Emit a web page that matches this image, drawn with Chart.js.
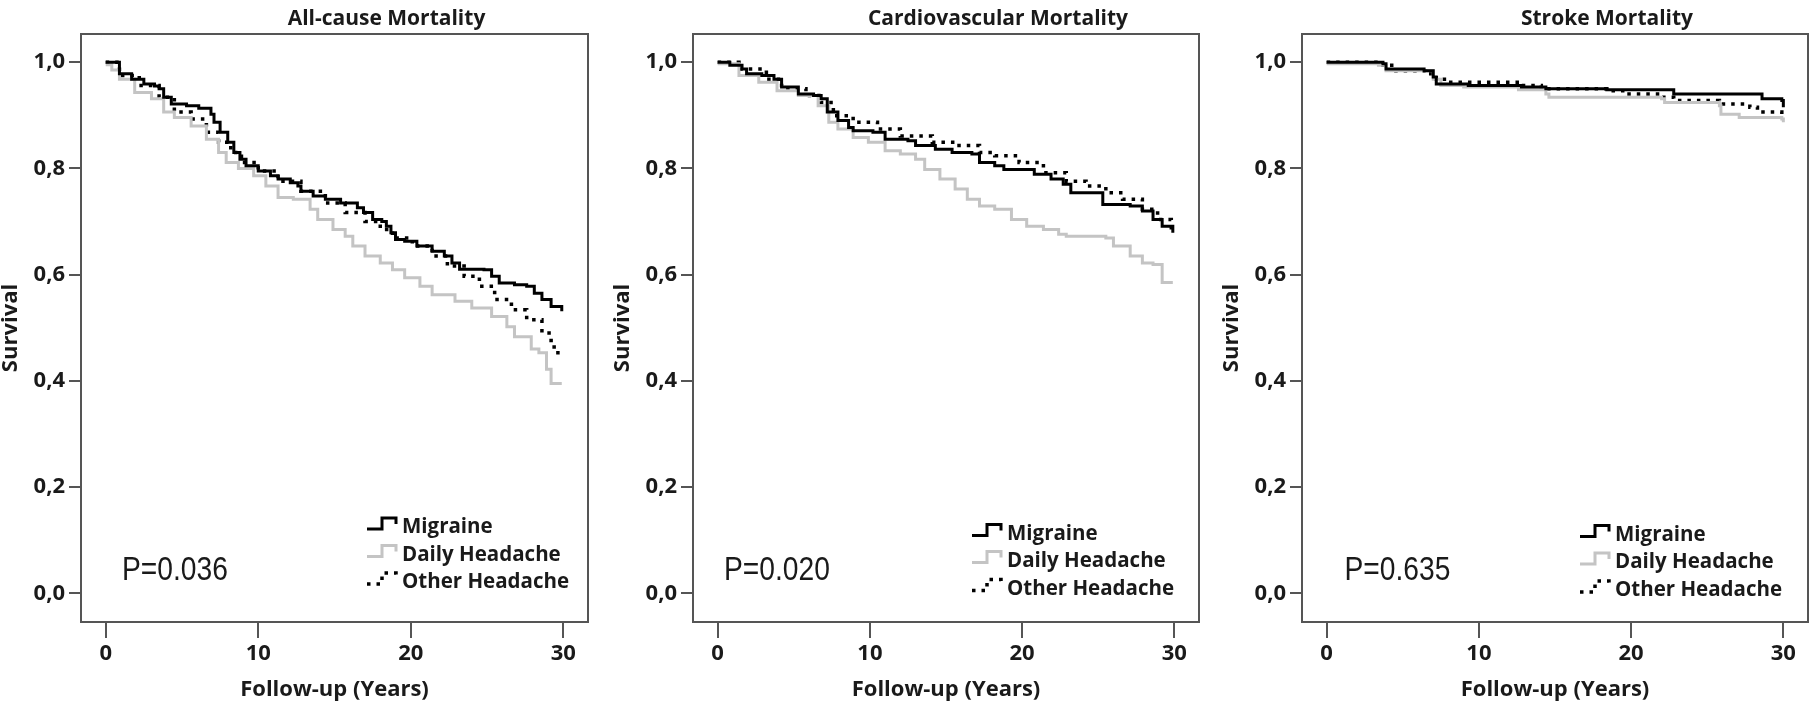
<!DOCTYPE html>
<html><head><meta charset="utf-8">
<script src="https://cdn.jsdelivr.net/npm/chart.js@4.4.1/dist/chart.umd.min.js"></script>
<style>
html,body{margin:0;padding:0;background:#fff;}
#wrap{position:relative;width:1809px;height:707px;overflow:hidden;background:#fff;}
canvas{position:absolute;top:0;}
</style></head><body>
<div id="wrap">
<canvas id="c0" width="600" height="707" style="left:0px"></canvas>
<canvas id="c1" width="592" height="707" style="left:612px"></canvas>
<canvas id="c2" width="588" height="707" style="left:1221px"></canvas>
</div>
<script>
// ---- text / categories ----
const panelTitles = ['All-cause Mortality', 'Cardiovascular Mortality', 'Stroke Mortality'];
const pValues = ['P=0.036', 'P=0.020', 'P=0.635'];
const seriesNames = ['Migraine', 'Daily Headache', 'Other Headache'];
const xTickValues = [0, 10, 20, 30];
const yTickValues = [0, 0.2, 0.4, 0.6, 0.8, 1.0];
const yTickLabels = ['0,0', '0,2', '0,4', '0,6', '0,8', '1,0'];
const yAxisTitle = 'Survival';
const xAxisTitle = 'Follow-up (Years)';

// ---- series values: [years, survival] ----
const allMigraine = [[0,1.0],[0.9,0.978],[1.7,0.968],[2.5,0.959],[3.2,0.955],[3.5,0.95],[3.8,0.934],[4.3,0.921],[5.3,0.918],[6.1,0.913],[6.9,0.902],[7.1,0.887],[7.5,0.868],[8.0,0.849],[8.4,0.83],[8.8,0.817],[9.2,0.805],[10.0,0.795],[10.8,0.786],[11.3,0.78],[12.1,0.773],[12.6,0.767],[12.8,0.757],[13.6,0.748],[14.4,0.742],[15.4,0.735],[16.5,0.726],[16.9,0.717],[17.5,0.704],[18.1,0.70],[18.4,0.691],[18.7,0.679],[19.0,0.666],[19.6,0.663],[20.4,0.654],[21.4,0.644],[22.2,0.635],[22.7,0.622],[23.2,0.61],[24.8,0.609],[25.3,0.597],[25.8,0.584],[26.8,0.581],[27.6,0.578],[28.1,0.565],[28.6,0.553],[29.2,0.54],[29.9,0.531]];
const allDaily = [[0,0.995],[0.4,0.985],[0.9,0.968],[1.9,0.943],[3.0,0.931],[3.8,0.906],[4.5,0.896],[5.6,0.88],[6.6,0.855],[7.4,0.83],[7.9,0.811],[8.7,0.80],[9.7,0.786],[10.5,0.767],[11.3,0.745],[12.3,0.742],[13.4,0.723],[13.9,0.704],[14.9,0.685],[15.7,0.672],[16.2,0.654],[17.0,0.635],[18.0,0.622],[18.8,0.609],[19.6,0.594],[20.6,0.578],[21.4,0.562],[22.9,0.55],[24.0,0.537],[25.3,0.521],[26.3,0.502],[26.8,0.483],[27.9,0.46],[28.4,0.453],[28.9,0.422],[29.2,0.395],[29.9,0.395]];
const allOther = [[0,1.0],[0.9,0.975],[2.2,0.956],[3.5,0.934],[4.5,0.906],[5.6,0.893],[6.6,0.868],[7.4,0.849],[8.2,0.83],[8.9,0.811],[10.0,0.795],[11.3,0.776],[12.8,0.757],[14.4,0.735],[15.7,0.717],[17.0,0.70],[18.0,0.685],[18.8,0.669],[20.1,0.654],[21.4,0.635],[22.4,0.616],[23.5,0.597],[24.5,0.578],[25.5,0.553],[26.6,0.534],[27.6,0.515],[28.6,0.49],[29.2,0.476],[29.4,0.453],[29.8,0.447]];

const cvMigraine = [[0,1.0],[0.8,0.994],[1.6,0.987],[1.9,0.978],[2.9,0.975],[3.7,0.968],[4.2,0.953],[5.3,0.94],[6.3,0.937],[6.8,0.931],[7.2,0.906],[7.9,0.89],[8.6,0.877],[8.9,0.871],[10.2,0.868],[11.0,0.855],[12.5,0.852],[13.0,0.843],[14.3,0.836],[15.4,0.83],[16.7,0.827],[17.2,0.811],[18.2,0.805],[18.8,0.798],[20.6,0.798],[20.8,0.789],[21.9,0.78],[22.7,0.77],[23.2,0.754],[24.7,0.754],[25.3,0.732],[27.1,0.729],[27.9,0.72],[28.6,0.704],[29.2,0.691],[29.9,0.679]];
const cvDaily = [[0,0.997],[1.4,0.975],[2.7,0.962],[3.9,0.946],[5.3,0.937],[6.6,0.918],[7.3,0.887],[7.9,0.874],[8.9,0.858],[9.9,0.849],[11.0,0.833],[12.0,0.827],[13.0,0.817],[13.6,0.798],[14.6,0.78],[15.6,0.761],[16.4,0.742],[17.2,0.729],[18.2,0.723],[19.3,0.704],[20.3,0.691],[21.4,0.685],[22.4,0.676],[22.9,0.672],[25.5,0.669],[26.0,0.654],[27.1,0.635],[27.9,0.622],[28.6,0.619],[29.2,0.585],[29.9,0.585]];
const cvOther = [[0,1.0],[1.4,0.987],[3.2,0.968],[4.2,0.95],[5.8,0.937],[6.8,0.924],[7.6,0.899],[8.9,0.887],[10.5,0.874],[12.0,0.861],[14.1,0.849],[15.6,0.843],[17.2,0.83],[18.2,0.824],[19.8,0.811],[21.4,0.792],[22.9,0.776],[24.2,0.767],[25.5,0.754],[26.6,0.742],[27.9,0.723],[28.9,0.704],[29.8,0.682]];

const strokeMigraine = [[0,1.0],[3.7,0.997],[3.9,0.987],[6.4,0.984],[7.0,0.972],[7.2,0.959],[9.3,0.956],[12.8,0.953],[14.4,0.95],[18.4,0.948],[22.6,0.948],[22.8,0.94],[28.5,0.94],[28.6,0.931],[29.9,0.928],[30.0,0.915]];
const strokeDaily = [[0,0.997],[3.4,0.994],[3.9,0.984],[7.0,0.968],[7.5,0.956],[9.0,0.953],[12.6,0.948],[14.4,0.94],[14.6,0.934],[22.0,0.931],[22.2,0.924],[25.8,0.918],[25.9,0.902],[27.1,0.896],[29.9,0.893],[30.0,0.887]];
const strokeOther = [[0,1.0],[3.7,0.994],[4.4,0.984],[6.5,0.978],[7.2,0.968],[8.0,0.962],[12.8,0.956],[14.1,0.95],[18.4,0.946],[19.7,0.94],[22.0,0.934],[22.8,0.928],[25.8,0.921],[27.8,0.915],[28.3,0.906],[29.9,0.899]];

const panelSeries = [
  [allMigraine, allDaily, allOther],
  [cvMigraine, cvDaily, cvOther],
  [strokeMigraine, strokeDaily, strokeOther]
];

// ---- layout (pixels) ----
const layoutCfg = [
  {padRight: 12, legendDx: 321, legendBase: [533, 560.5, 588], pDx: 41},
  {padRight: 5,  legendDx: 314, legendBase: [539.5, 566.5, 594.5], pDx: 31},
  {padRight: 1,  legendDx: 313, legendBase: [540.5, 568, 596], pDx: 42.5}
];
const styles = [
  {color: '#000000', width: 3, dash: []},
  {color: '#c4c4c4', width: 3, dash: []},
  {color: '#000000', width: 3.5, dash: [3.5, 6]}
];
const frameColor = '#555555';
const textColor = '#1a1a1a';
const boldFont = '"Open Sans", Lato, "Noto Sans"';

const annotPlugin = {
  id: 'annot',
  afterDraw(chart, args, o) {
    const ctx = chart.ctx, a = chart.chartArea;
    ctx.save();
    ctx.strokeStyle = frameColor; ctx.lineWidth = 2;
    ctx.strokeRect(a.left, a.top, a.right - a.left, a.bottom - a.top);
    ctx.fillStyle = textColor;
    ctx.font = 'bold 21px ' + boldFont;
    ctx.textAlign = 'center'; ctx.textBaseline = 'alphabetic';
    ctx.fillText(o.title, (a.left + a.right) / 2 + 52, 25);
    // p-value in a condensed sans
    ctx.save();
    ctx.font = '34px "Liberation Sans", Arimo, "DejaVu Sans"';
    ctx.textAlign = 'left';
    ctx.translate(a.left + o.pDx, 580);
    ctx.scale(0.83, 1);
    ctx.fillText(o.p, 0, 0);
    ctx.restore();
    ctx.font = 'bold 20.5px ' + boldFont;
    ctx.textAlign = 'left';
    const tx = a.left + o.legendDx;
    seriesNames.forEach((name, i) => {
      const b = o.legendBase[i];
      const st = styles[i];
      ctx.fillStyle = textColor;
      ctx.fillText(name, tx, b);
      const sl = tx - 35, yb = b - 4, yt = b - 15;
      ctx.beginPath();
      ctx.moveTo(sl, yb); ctx.lineTo(sl + 15, yb); ctx.lineTo(sl + 15, yt);
      ctx.lineTo(sl + 29, yt); ctx.lineTo(sl + 29, yt + 6);
      ctx.strokeStyle = st.color; ctx.lineWidth = st.width;
      ctx.setLineDash(st.dash);
      ctx.stroke();
      ctx.setLineDash([]);
    });
    ctx.restore();
  }
};

panelTitles.forEach((title, k) => {
  const L = layoutCfg[k];
  new Chart(document.getElementById('c' + k), {
    type: 'line',
    data: {
      datasets: panelSeries[k].map((s, i) => ({
        label: seriesNames[i],
        data: s.map(p => ({x: p[0], y: p[1]})),
        borderColor: styles[i].color,
        borderWidth: styles[i].width,
        borderDash: styles[i].dash,
        stepped: 'before',
        pointRadius: 0,
        fill: false,
        tension: 0
      }))
    },
    options: {
      responsive: false,
      animation: false,
      devicePixelRatio: 1,
      layout: {padding: {top: 34, right: L.padRight, left: 0, bottom: 0}},
      plugins: {
        legend: {display: false},
        tooltip: {enabled: false},
        annot: {title: title, p: pValues[k], pDx: L.pDx, legendDx: L.legendDx, legendBase: L.legendBase}
      },
      scales: {
        x: {
          type: 'linear', min: -1.62, max: 31.62,
          afterBuildTicks: s => { s.ticks = xTickValues.map(v => ({value: v})); },
          afterFit: s => { s.height = 85; },
          grid: {drawOnChartArea: false, drawTicks: true, tickLength: 16, color: frameColor, lineWidth: 2},
          border: {display: false},
          ticks: {padding: 3, color: textColor, font: {family: boldFont, weight: 'bold', size: 22}, maxRotation: 0, autoSkip: false},
          title: {display: true, text: xAxisTitle, color: textColor, font: {family: boldFont, weight: 'bold', size: 22}, padding: {top: 0, bottom: 4}}
        },
        y: {
          type: 'linear', min: -0.054, max: 1.053,
          afterBuildTicks: s => { s.ticks = yTickValues.map(v => ({value: v})); },
          afterFit: s => { s.width = 81; },
          grid: {drawOnChartArea: false, drawTicks: true, tickLength: 12, color: frameColor, lineWidth: 2},
          border: {display: false},
          ticks: {padding: 4, color: textColor, font: {family: boldFont, weight: 'bold', size: 22}, autoSkip: false,
                  callback: (v, i) => yTickLabels[i]},
          title: {display: true, text: yAxisTitle, color: textColor, font: {family: boldFont, weight: 'bold', size: 22}, padding: {top: -2, bottom: 0}}
        }
      }
    },
    plugins: [annotPlugin]
  });
});
</script>
</body></html>
